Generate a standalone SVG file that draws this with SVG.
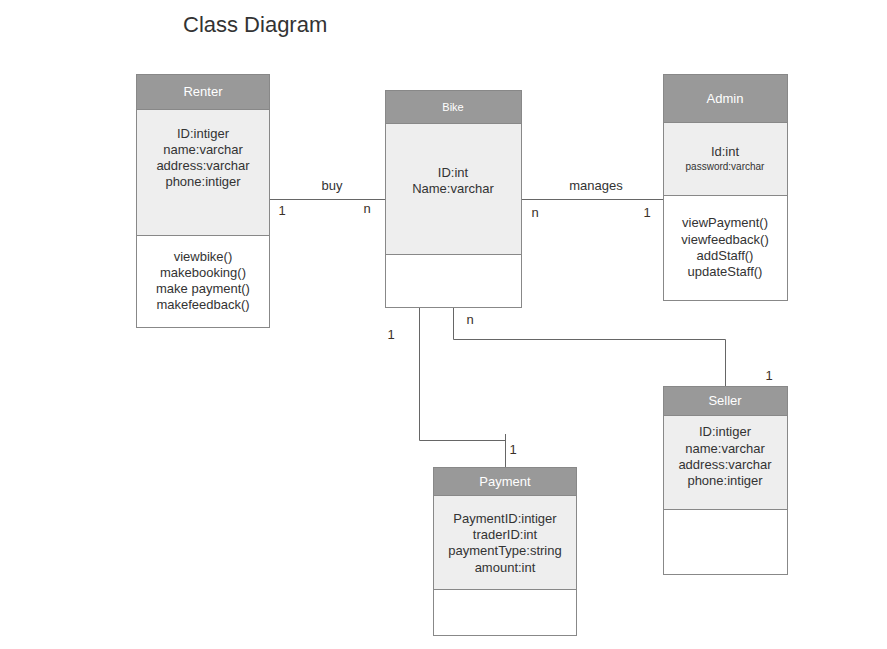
<svg xmlns="http://www.w3.org/2000/svg" width="887" height="649" viewBox="0 0 887 649">
<style>
text{font-family:"Liberation Sans",Arial,sans-serif;font-size:13px;fill:#333;}
.t{text-anchor:middle;}
.h{fill:#fff;text-anchor:middle;}
.hd{fill:#999;stroke:#888;stroke-width:1;}
.at{fill:#eee;stroke:#888;stroke-width:1;}
.me{fill:#fff;stroke:#888;stroke-width:1;}
.c{fill:none;stroke:#666;stroke-width:1;}
.m{font-size:13px;fill:#3a3028;}
</style>
<rect width="887" height="649" fill="#fff"/>
<text x="183" y="32" style="font-size:22px">Class Diagram</text>
<g id="connectors">
<line class="c" x1="269.5" y1="199.5" x2="385.5" y2="199.5"/>
<line class="c" x1="521.5" y1="199.5" x2="663.5" y2="199.5"/>
<path class="c" d="M419.5 307.5V440.5H505.5"/>
<line class="c" x1="505.5" y1="434" x2="505.5" y2="467"/>
<path class="c" d="M453.5 307.5V339.5H725.5V386.5"/>
<text x="332" y="190" class="t">buy</text>
<text x="596" y="190" class="t">manages</text>
<text x="282" y="215" class="t m">1</text>
<text x="367" y="213" class="t m">n</text>
<text x="535" y="217" class="t m">n</text>
<text x="647" y="217" class="t m">1</text>
<text x="391" y="339" class="t m">1</text>
<text x="470" y="324" class="t m">n</text>
<text x="769" y="380" class="t m">1</text>
<text x="513" y="454" class="t m">1</text>
</g>
<g id="renter">
<rect class="hd" x="136.5" y="74.5" width="133" height="35"/>
<rect class="at" x="136.5" y="109.5" width="133" height="126"/>
<rect class="me" x="136.5" y="235.5" width="133" height="92"/>
<text x="203" y="96" class="h">Renter</text>
<text x="203" y="138" class="t">ID:intiger</text>
<text x="203" y="154" class="t">name:varchar</text>
<text x="203" y="170" class="t">address:varchar</text>
<text x="203" y="186" class="t">phone:intiger</text>
<text x="203" y="261" class="t">viewbike()</text>
<text x="203" y="277" class="t">makebooking()</text>
<text x="203" y="293" class="t">make payment()</text>
<text x="203" y="309" class="t">makefeedback()</text>
</g>
<g id="bike">
<rect class="hd" x="385.5" y="90.5" width="136" height="33"/>
<rect class="at" x="385.5" y="123.5" width="136" height="131"/>
<rect class="me" x="385.5" y="254.5" width="136" height="53"/>
<text x="453" y="111" class="h" style="font-size:11px">Bike</text>
<text x="453" y="177" class="t">ID:int</text>
<text x="453" y="193" class="t">Name:varchar</text>
</g>
<g id="admin">
<rect class="hd" x="663.5" y="74.5" width="124" height="48"/>
<rect class="at" x="663.5" y="122.5" width="124" height="73"/>
<rect class="me" x="663.5" y="195.5" width="124" height="105"/>
<text x="725" y="103" class="h">Admin</text>
<text x="725" y="156" class="t">Id:int</text>
<text x="725" y="170" class="t" style="font-size:10px">password:varchar</text>
<text x="725" y="227" class="t">viewPayment()</text>
<text x="725" y="244" class="t">viewfeedback()</text>
<text x="725" y="260" class="t">addStaff()</text>
<text x="725" y="276" class="t">updateStaff()</text>
</g>
<g id="seller">
<rect class="hd" x="663.5" y="386.5" width="124" height="29"/>
<rect class="at" x="663.5" y="415.5" width="124" height="94"/>
<rect class="me" x="663.5" y="509.5" width="124" height="65"/>
<text x="725" y="405" class="h">Seller</text>
<text x="725" y="436" class="t">ID:intiger</text>
<text x="725" y="453" class="t">name:varchar</text>
<text x="725" y="469" class="t">address:varchar</text>
<text x="725" y="485" class="t">phone:intiger</text>
</g>
<g id="payment">
<rect class="hd" x="433.5" y="467.5" width="143" height="28"/>
<rect class="at" x="433.5" y="495.5" width="143" height="94"/>
<rect class="me" x="433.5" y="589.5" width="143" height="46"/>
<text x="505" y="486" class="h">Payment</text>
<text x="505" y="523" class="t">PaymentID:intiger</text>
<text x="505" y="539" class="t">traderID:int</text>
<text x="505" y="555" class="t">paymentType:string</text>
<text x="505" y="572" class="t">amount:int</text>
</g>
</svg>
